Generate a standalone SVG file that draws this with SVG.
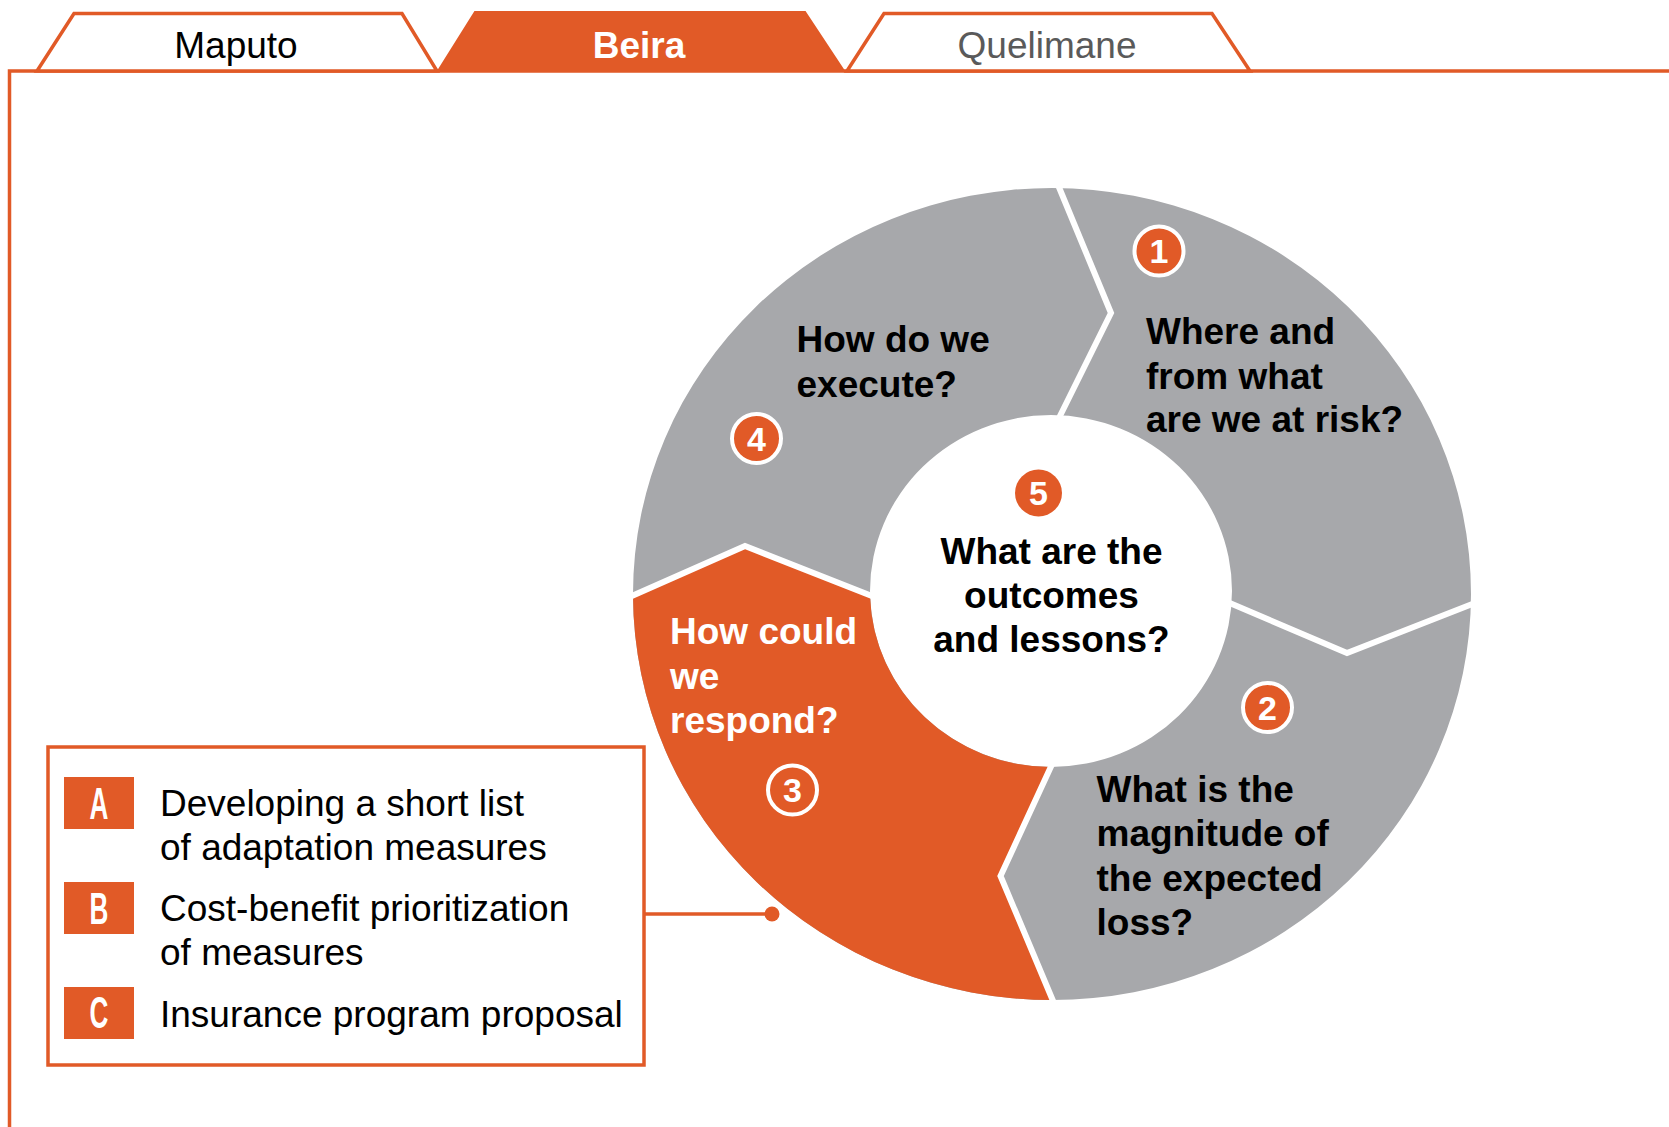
<svg xmlns="http://www.w3.org/2000/svg" width="1669" height="1127" viewBox="0 0 1669 1127">
<style>
.or{fill:#E15A27}
.frame{fill:none;stroke:#E15A27;stroke-width:3.5}
.tab{fill:#fff;stroke:#E15A27;stroke-width:3.5;stroke-linejoin:miter}
.tabt{font-family:"Liberation Sans",Arial,sans-serif;font-size:37px;text-anchor:middle}
.q{font-family:"Liberation Sans",Arial,sans-serif;font-size:37px;font-weight:bold;fill:#000}
.qc{text-anchor:middle}
.gap{fill:none;stroke:#fff;stroke-width:6;stroke-linejoin:miter}
.num{fill:#E15A27;stroke:#fff;stroke-width:4}
.numt{font-family:"Liberation Sans",Arial,sans-serif;font-size:34px;font-weight:bold;fill:#fff;text-anchor:middle}
.lt{font-family:"Liberation Sans",Arial,sans-serif;font-size:37px;fill:#000}
.badge{fill:#E15A27}
.bt{font-family:"Liberation Sans",Arial,sans-serif;font-size:45px;font-weight:bold;fill:#fff;text-anchor:middle}
</style>

<g id="frame">
<polyline class="frame" points="9.5,1127 9.5,71 1669,71"/>
</g>

<g id="tab-maputo">
<polygon class="tab" points="37,71 74,13.5 402,13.5 437,71"/>
<text class="tabt" x="236" y="58" fill="#000">Maputo</text>
</g>
<g id="tab-beira">
<polygon points="438,71 475,12 805,12 844,71" fill="#E15A27" stroke="#E15A27" stroke-width="2"/>
<text class="tabt" x="639" y="58" fill="#fff" font-weight="bold">Beira</text>
</g>
<g id="tab-quelimane">
<polygon class="tab" points="847,71 884,13.5 1212,13.5 1250,71"/>
<text class="tabt" x="1047" y="58" fill="#5A5A5A">Quelimane</text>
</g>

<g id="ring">
<path fill="#A7A8AB" fill-rule="evenodd" d="M 633,594 A 419 406 0 1 1 1471,594 A 419 406 0 1 1 633,594 Z M 870,591 A 181 176 0 1 0 1232,591 A 181 176 0 1 0 870,591 Z"/>
</g>

<g id="node-3">
<path class="or" d="M 633,596 L 745,546 L 870.1,597 A 181 176 0 0 0 1051,767 L 1000.5,876 L 1053,1000 A 419 406 0 0 1 633,596 Z"/>
</g>

<g id="gaps">
<polyline class="gap" points="1056,180 1111,313 1057,422"/>
<polyline class="gap" points="1225,601 1347,653 1480,601"/>
<polyline class="gap" points="1054,760 1000.5,876 1056,1008"/>
<polyline class="gap" points="625,599 745,546 877,598"/>
</g>

<g id="node-1">
<circle class="num" cx="1159" cy="251" r="24.5"/>
<text class="numt" x="1159" y="263">1</text>
<text class="q" x="1146" y="344">Where and</text>
<text class="q" x="1146" y="388.5">from what</text>
<text class="q" x="1146" y="432">are we at risk?</text>
</g>

<g id="node-2">
<circle class="num" cx="1267.5" cy="707.5" r="24.5"/>
<text class="numt" x="1267.5" y="719.5">2</text>
<text class="q" x="1096.5" y="802">What is the</text>
<text class="q" x="1096.5" y="846">magnitude of</text>
<text class="q" x="1096.5" y="891">the expected</text>
<text class="q" x="1096.5" y="935">loss?</text>
</g>

<g id="node-3-label">
<circle cx="792.5" cy="790" r="24.5" fill="none" stroke="#fff" stroke-width="4"/>
<text class="numt" x="792.5" y="802">3</text>
<text class="q" x="670" y="644" style="fill:#fff">How could</text>
<text class="q" x="670" y="689" style="fill:#fff">we</text>
<text class="q" x="670" y="732.5" style="fill:#fff">respond?</text>
</g>

<g id="node-4">
<circle class="num" cx="756.5" cy="438.5" r="24.5"/>
<text class="numt" x="756.5" y="450.5">4</text>
<text class="q" x="796.5" y="352">How do we</text>
<text class="q" x="796.5" y="397">execute?</text>
</g>

<g id="node-5">
<circle cx="1038.5" cy="493" r="23.5" fill="#E15A27"/>
<text class="numt" x="1038.5" y="505">5</text>
<text class="q qc" x="1051.5" y="563.5">What are the</text>
<text class="q qc" x="1051.5" y="607.5">outcomes</text>
<text class="q qc" x="1051.5" y="651.5">and lessons?</text>
</g>

<g id="connectors">
<line x1="644" y1="914" x2="772" y2="914" stroke="#E15A27" stroke-width="3.5"/>
<circle cx="772" cy="914" r="7.5" fill="#E15A27"/>
</g>

<g id="legend">
<rect x="48" y="747" width="596" height="318" fill="none" stroke="#E15A27" stroke-width="3.5"/>
<rect class="badge" x="64" y="777" width="70" height="52"/>
<text class="bt" transform="translate(99,819) scale(0.58,1)">A</text>
<rect class="badge" x="64" y="882" width="70" height="52"/>
<text class="bt" transform="translate(99,923.5) scale(0.58,1)">B</text>
<rect class="badge" x="64" y="987" width="70" height="52"/>
<text class="bt" transform="translate(99,1028) scale(0.58,1)">C</text>
<text class="lt" x="160" y="815.5">Developing a short list</text>
<text class="lt" x="160" y="860">of adaptation measures</text>
<text class="lt" x="160" y="920.5">Cost-benefit prioritization</text>
<text class="lt" x="160" y="964.5">of measures</text>
<text class="lt" x="160" y="1026.5">Insurance program proposal</text>
</g>
</svg>
